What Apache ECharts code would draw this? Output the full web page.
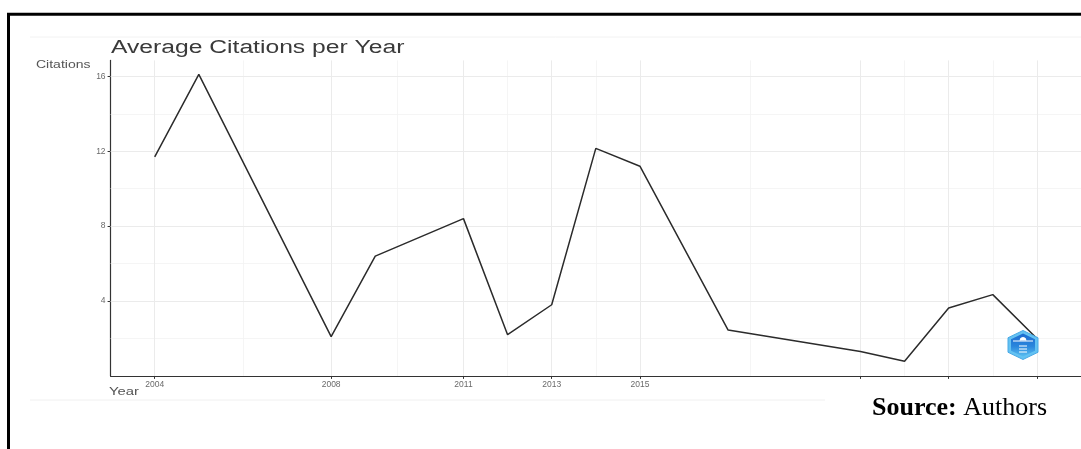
<!DOCTYPE html>
<html><head><meta charset="utf-8">
<script src="https://cdn.jsdelivr.net/npm/echarts@6/dist/echarts.min.js"></script>
<style>html,body{margin:0;padding:0;background:#fff}#c{width:1081px;height:449px}</style>
</head><body><div id="c"></div>
<script>
// ---- data ----
const years = [2004, 2005, 2008, 2009, 2011, 2012, 2013, 2014, 2015, 2017, 2020, 2021, 2022, 2023, 2024];
const citations = [11.7, 16.1, 2.1, 6.4, 8.4, 2.2, 3.8, 12.15, 11.2, 2.45, 1.3, 0.78, 3.63, 4.34, 2.0];
const xBreaks = [2004, 2008, 2011, 2013, 2015, 2020, 2022, 2024];
const yBreaks = [4, 8, 12, 16];
const yMinorBreaks = [2, 6, 10, 14];
const titleText = 'Average Citations per Year';
const yName = 'Citations';
const xName = 'Year';

const xMinorBreaks = xBreaks.slice(1).map((v, i) => (v + xBreaks[i]) / 2);
const seriesData = years.map((y, i) => [y, citations[i]]);

const chart = echarts.init(document.getElementById('c'), null, {renderer: 'canvas'});
const gridMajor = {color: '#ebebeb', width: 1, type: 'solid'};
const gridMinor = {color: '#f3f3f3', width: 0.8, type: 'solid'};
const markData = []
  .concat(xMinorBreaks.map(v => ({xAxis: v, lineStyle: gridMinor})))
  .concat(yMinorBreaks.map(v => ({yAxis: v, lineStyle: gridMinor})))
  .concat(xBreaks.map(v => ({xAxis: v, lineStyle: gridMajor})))
  .concat(yBreaks.map(v => ({yAxis: v, lineStyle: gridMajor})));

const hexPts = (cx, cy, rx, ry) => [[cx, cy - ry], [cx + rx, cy - ry / 2], [cx + rx, cy + ry / 2], [cx, cy + ry], [cx - rx, cy + ry / 2], [cx - rx, cy - ry / 2]];

chart.setOption({
  animation: false,
  backgroundColor: '#fff',
  grid: {left: 110.6, right: -2, top: 60.4, bottom: 73.1, containLabel: false},
  xAxis: {
    type: 'value', min: 2003, max: 2025,
    axisLine: {show: true, lineStyle: {color: '#333', width: 1.2}},
    axisTick: {show: true, length: 3, lineStyle: {color: '#333'}, customValues: xBreaks},
    axisLabel: {show: true, customValues: xBreaks, fontSize: 8.5, color: '#6a6a6a', margin: 4, fontFamily: 'Liberation Sans, Arial, sans-serif', formatter: v => String(v)},
    splitLine: {show: false}
  },
  yAxis: {
    type: 'value', min: 0, max: 16.85,
    axisLine: {show: true, lineStyle: {color: '#333', width: 1.2}},
    axisTick: {show: true, length: 3, lineStyle: {color: '#333'}, customValues: yBreaks},
    axisLabel: {show: true, customValues: yBreaks, fontSize: 8.5, color: '#6a6a6a', margin: 5, fontFamily: 'Liberation Sans, Arial, sans-serif'},
    splitLine: {show: false}
  },
  series: [
    {
      type: 'line', data: seriesData, z: 1, silent: true,
      showSymbol: false, lineStyle: {opacity: 0},
      markLine: {silent: true, symbol: ['none', 'none'], label: {show: false}, animation: false, data: markData}
    },
    {
      type: 'line', data: seriesData, z: 5,
      showSymbol: false, symbol: 'none',
      lineStyle: {color: '#2b2b2b', width: 1.5}
    }
  ],
  graphic: [
    {type: 'rect', z: 50, shape: {x: 8.5, y: 14.2, width: 1200, height: 600}, style: {fill: 'none', stroke: '#000', lineWidth: 3}},
    {type: 'line', z: 50, shape: {x1: 30, y1: 37, x2: 1081, y2: 37}, style: {stroke: '#f2f2f2', lineWidth: 1}},
    {type: 'line', z: 50, shape: {x1: 30, y1: 400, x2: 825, y2: 400}, style: {stroke: '#f0f0f0', lineWidth: 1}},
    {type: 'text', z: 50, x: 111, y: 48, scaleX: 1.37, style: {text: titleText, font: '18px "Liberation Sans", Arial, sans-serif', fill: '#3a3a3a', align: 'left', verticalAlign: 'middle'}},
    {type: 'text', z: 50, x: 36, y: 65, scaleX: 1.4, style: {text: yName, font: '10px "Liberation Sans", Arial, sans-serif', fill: '#555', align: 'left', verticalAlign: 'middle'}},
    {type: 'text', z: 50, x: 109, y: 391.5, scaleX: 1.35, style: {text: xName, font: '11px "Liberation Sans", Arial, sans-serif', fill: '#555', align: 'left', verticalAlign: 'middle'}},
    {type: 'rect', z: 60, shape: {x: 825, y: 379.5, width: 260, height: 70}, style: {fill: '#fff'}},
    {type: 'text', z: 61, x: 872, y: 408, style: {
      text: '{b|Source:} {n|Authors}', align: 'left', verticalAlign: 'middle', fill: '#000',
      font: '26px "Liberation Serif", "Times New Roman", serif',
      rich: {b: {fontWeight: 'bold', fontSize: 26, fontFamily: '"Liberation Serif", "Times New Roman", serif', fill: '#000'},
             n: {fontSize: 26, fontFamily: '"Liberation Serif", "Times New Roman", serif', fill: '#000'}}
    }},
    {type: 'polygon', z: 70, shape: {points: hexPts(1023, 345, 15, 14.5)}, style: {fill: '#63c2f2', stroke: '#4aa9e6', lineWidth: 1}},
    {type: 'polygon', z: 71, shape: {points: hexPts(1023, 345, 12, 11.5)}, style: {
      fill: {type: 'linear', x: 0, y: 0, x2: 0, y2: 1, colorStops: [{offset: 0, color: '#1d6bd0'}, {offset: 0.55, color: '#2a86dc'}, {offset: 1, color: '#58bdf0'}]}
    }},
    {type: 'line', z: 72, shape: {x1: 1013, y1: 341, x2: 1033, y2: 341}, style: {stroke: '#fff', lineWidth: 1}},
    {type: 'arc', z: 72, shape: {cx: 1023, cy: 340.5, r: 3, startAngle: Math.PI, endAngle: 2 * Math.PI}, style: {stroke: '#fff', fill: '#fff', lineWidth: 1}},
    {type: 'line', z: 72, shape: {x1: 1019, y1: 346, x2: 1027, y2: 346}, style: {stroke: '#fff', lineWidth: 1}},
    {type: 'line', z: 72, shape: {x1: 1019, y1: 349, x2: 1027, y2: 349}, style: {stroke: '#fff', lineWidth: 1}},
    {type: 'line', z: 72, shape: {x1: 1019, y1: 352, x2: 1027, y2: 352}, style: {stroke: '#fff', lineWidth: 1}}
  ]
});
</script>
</body></html>
